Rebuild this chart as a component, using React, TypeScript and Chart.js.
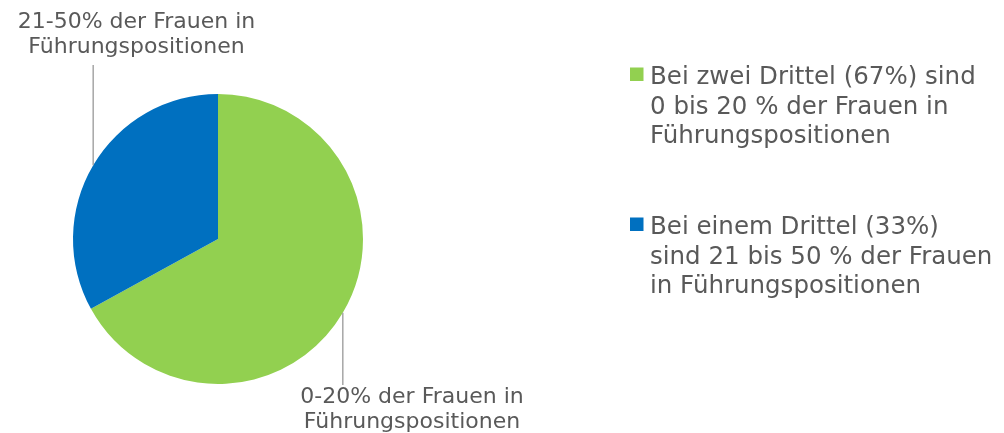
import React, { useEffect, useRef } from "react";
import { Chart, registerables } from "chart.js";

Chart.register(...registerables);

const categories = ["0-20% der Frauen in Führungspositionen", "21-50% der Frauen in Führungspositionen"];
const values = [67, 33];
const colors = ["#92D050", "#0070C0"];
const sliceLabels = [
  ["0-20% der Frauen in", "Führungspositionen"],
  ["21-50% der Frauen in", "Führungspositionen"],
];
const legendLabels = [
  ["Bei zwei Drittel (67%) sind", "0 bis 20 % der Frauen in", "Führungspositionen"],
  ["Bei einem Drittel (33%)", "sind 21 bis 50 % der Frauen", "in Führungspositionen"],
];

const LABEL_FONT = '22px "DejaVu Sans"';
const LEGEND_FONT = '24.5px "DejaVu Sans"';
const TEXT = "#595959";

const overlay = {
  id: "overlay",
  afterDraw(chart: any) {
    const ctx = chart.ctx as CanvasRenderingContext2D;
    const meta = chart.getDatasetMeta(0);
    ctx.save();
    ctx.font = LABEL_FONT;
    ctx.fillStyle = TEXT;
    ctx.textBaseline = "alphabetic";
    // slice labels with leader lines
    meta.data.forEach((arc: any, i: number) => {
      const p = arc.getProps(["x", "y", "startAngle", "endAngle", "outerRadius"], true);
      const mid = (p.startAngle + p.endAngle) / 2;
      const ex = p.x + p.outerRadius * Math.cos(mid);
      const ey = p.y + p.outerRadius * Math.sin(mid);
      const up = ey < p.y;
      const endY = up ? 65 : 385;
      ctx.strokeStyle = "#A6A6A6";
      ctx.lineWidth = 1.5;
      ctx.beginPath();
      ctx.moveTo(ex, ey);
      ctx.lineTo(ex, endY);
      ctx.stroke();
      ctx.textAlign = "center";
      const cx = up ? 136.5 : 412;
      const base = up ? 28 : 403;
      sliceLabels[i].forEach((t, k) => ctx.fillText(t, cx, base + k * 25));
    });
    // legend
    ctx.font = LEGEND_FONT;
    ctx.textAlign = "left";
    legendLabels.forEach((lines, i) => {
      const top = 67.5 + i * 150;
      ctx.fillStyle = colors[i];
      ctx.fillRect(630, top, 13.5, 13.5);
      ctx.fillStyle = TEXT;
      lines.forEach((t, k) => ctx.fillText(t, 650, top + 16.5 + k * 29.5));
    });
    ctx.restore();
  },
};

export default function App() {
  const ref = useRef<HTMLCanvasElement>(null);
  useEffect(() => {
    document.body.style.margin = "0";
    const chart = new Chart(ref.current!, {
      type: "pie",
      data: {
        labels: categories,
        datasets: [{ data: values, backgroundColor: colors, borderWidth: 0 }],
      },
      options: {
        animation: false,
        responsive: false,
        layout: { padding: { left: 73, top: 94, right: 641, bottom: 49 } },
        plugins: { legend: { display: false }, tooltip: { enabled: false } },
      },
      plugins: [overlay],
    });
    return () => chart.destroy();
  }, []);
  return (
    <div style={{ width: 1004, height: 433 }}>
      <canvas ref={ref} width={1004} height={433} style={{ display: "block" }} />
    </div>
  );
}
